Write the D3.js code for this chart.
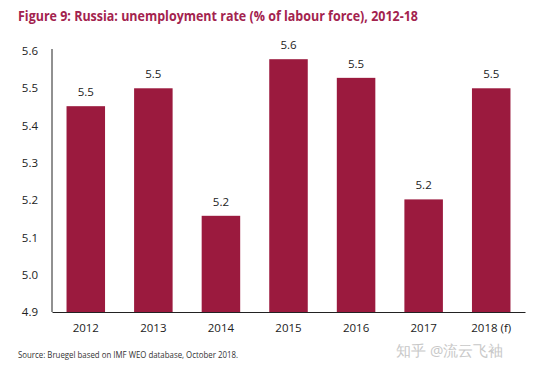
<!DOCTYPE html>
<html>
<head>
    <meta charset="utf-8">
    <script src="https://cdn.jsdelivr.net/npm/d3@7/dist/d3.min.js"></script>
    <style>
        body { margin: 0; background: #fff; }
        text { font-family: "Open Sans", "Noto Sans", sans-serif; }
    </style>
</head>
<body>
    <svg width="559" height="371" id="mainsvg"></svg>
    <script>
        const years = ['2012', '2013', '2014', '2015', '2016', '2017', '2018 (f)'];
        const rates = [5.452, 5.50, 5.158, 5.578, 5.528, 5.202, 5.50];
        const yTicks = [4.9, 5.0, 5.1, 5.2, 5.3, 5.4, 5.5, 5.6];

        const svg = d3.select('svg');
        const margin = { top: 51, right: 34, bottom: 59, left: 52 };
        const width = +svg.attr('width');
        const height = +svg.attr('height');
        const innerWidth = width - margin.left - margin.right;
        const innerHeight = height - margin.top - margin.bottom;
        const barColor = '#9b1a3e';

        svg.append('text')
            .attr('x', 18).attr('y', 21)
            .attr('fill', '#a3234e')
            .attr('font-weight', 'bold')
            .attr('font-size', 13.5)
            .attr('textLength', 400)
            .attr('lengthAdjust', 'spacingAndGlyphs')
            .text('Figure 9: Russia: unemployment rate (% of labour force), 2012-18');

        const g = svg.append('g')
            .attr('transform', `translate(${margin.left}, ${margin.top})`);

        const x = d3.scaleBand().domain(years).range([0, innerWidth]).paddingInner(0.43).paddingOuter(0.215);
        const y = d3.scaleLinear().domain([4.9, 5.6]).range([innerHeight, 0]);

        g.selectAll('rect').data(rates).join('rect')
            .attr('x', (d, i) => x(years[i]))
            .attr('y', d => y(d))
            .attr('width', x.bandwidth())
            .attr('height', d => innerHeight - y(d))
            .attr('fill', barColor);

        g.selectAll('.val').data(rates).join('text')
            .attr('class', 'val')
            .attr('x', (d, i) => x(years[i]) + x.bandwidth() / 2)
            .attr('y', d => y(d) - 10)
            .attr('text-anchor', 'middle')
            .attr('font-size', 11.5)
            .attr('fill', '#222')
            .text(d => d3.format('.1f')(d));

        const yAxis = g.append('g')
            .call(d3.axisLeft(y).tickValues(yTicks).tickFormat(d3.format('.1f')).tickSize(0).tickPadding(14));
        yAxis.select('.domain').attr('stroke', '#222').attr('d', `M0,-2V${innerHeight}`);
        yAxis.selectAll('text').attr('font-size', 11.5).attr('fill', '#222');

        const xAxis = g.append('g')
            .attr('transform', `translate(0, ${innerHeight})`)
            .call(d3.axisBottom(x).tickSize(0).tickPadding(12));
        xAxis.select('.domain').attr('stroke', '#222');
        xAxis.selectAll('text').attr('font-size', 11.5).attr('fill', '#222');

        svg.append('text')
            .attr('x', 18).attr('y', 358)
            .attr('font-size', 9)
            .attr('fill', '#333')
            .attr('textLength', 220)
            .attr('lengthAdjust', 'spacingAndGlyphs')
            .text('Source: Bruegel based on IMF WEO database, October 2018.');

        svg.append('text')
            .attr('x', 396).attr('y', 356)
            .attr('font-family', '"Noto Sans CJK SC", sans-serif')
            .attr('font-size', 15)
            .attr('fill', '#c8c8c8')
            .text('知乎 @流云飞袖');
    </script>
</body>
</html>
